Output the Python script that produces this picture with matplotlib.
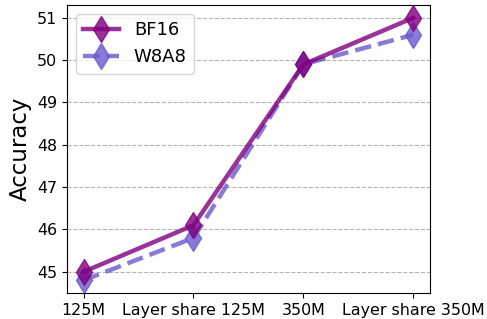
import matplotlib
matplotlib.use("Agg")
import matplotlib.pyplot as plt

categories = ["125M", "Layer share 125M", "350M", "Layer share 350M"]
bf16 = [45.0, 46.1, 49.9, 51.0]
w8a8 = [44.8, 45.8, 49.9, 50.6]

fig = plt.figure(figsize=(4.87, 3.19), dpi=100)
ax = fig.add_axes([0.1376, 0.0815, 0.745, 0.9025])
x = list(range(len(categories)))
ax.plot(x, bf16, color="purple", alpha=0.8, lw=3.2, marker="d", markersize=13, label="BF16", zorder=3)
ax.plot(x, w8a8, color="slateblue", alpha=0.8, lw=3.2, ls="--", marker="d", markersize=13, label="W8A8", zorder=2)
ax.set_xticks(x)
ax.set_xticklabels(categories, fontsize=11.4)
ax.set_yticks([45, 46, 47, 48, 49, 50, 51])
ax.tick_params(axis="y", labelsize=11.4)
ax.set_ylim(44.5, 51.3)
ax.set_xlim(-0.15, 3.15)
ax.grid(axis="y", ls="--", color="gray", alpha=0.6)
ax.set_axisbelow(True)
ax.set_ylabel("Accuracy", fontsize=16.5)
ax.legend(loc="upper left", fontsize=13)
fig.savefig("out.png", dpi=100)
